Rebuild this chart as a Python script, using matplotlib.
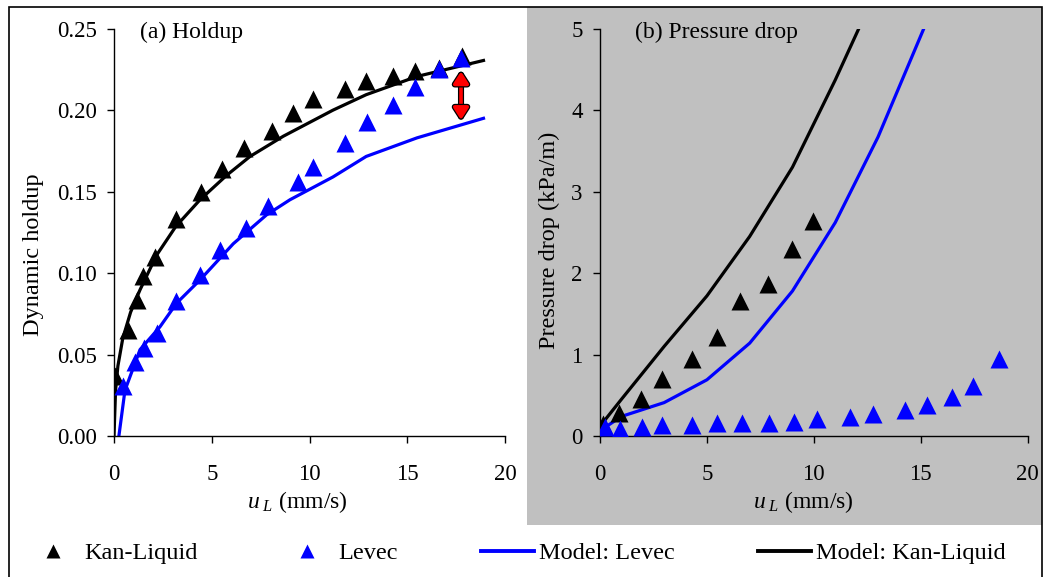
import numpy as np
import matplotlib
matplotlib.use("Agg")
import matplotlib.pyplot as plt
from matplotlib.patches import Rectangle
from matplotlib.lines import Line2D
import matplotlib.patheffects as pe

plt.rcParams['font.family'] = 'Liberation Serif'
plt.rcParams['mathtext.fontset'] = 'custom'
plt.rcParams['mathtext.rm'] = 'Liberation Serif'
plt.rcParams['mathtext.it'] = 'Liberation Serif:italic'

# (a) holdup - experimental
kan_hold_u = [0.05, 0.7, 1.16, 1.5, 2.1, 3.16, 4.45, 5.5, 6.67, 8.07, 9.14, 10.2, 11.8, 12.9, 14.25, 15.4, 16.6, 17.8]
kan_hold = [0.037, 0.065, 0.0835, 0.098, 0.110, 0.133, 0.150, 0.164, 0.177, 0.187, 0.198, 0.207, 0.213, 0.2176, 0.221, 0.224, 0.226, 0.233]
lev_hold_u = [0.45, 1.07, 1.53, 2.18, 3.16, 4.4, 5.42, 6.75, 7.9, 9.43, 10.2, 11.8, 12.93, 14.29, 15.4, 16.6, 17.75]
lev_hold = [0.0307, 0.0456, 0.054, 0.0635, 0.083, 0.099, 0.114, 0.1276, 0.141, 0.156, 0.165, 0.180, 0.193, 0.203, 0.214, 0.225, 0.232]

# (a) holdup - model
mod_kan_hold_u = [0, 0.08, 0.2, 0.45, 0.85, 1.33, 2.18, 3.16, 4.4, 5.76, 6.96, 8.66, 11.2, 12.9, 15.5, 18.9]
mod_kan_hold = [0, 0.028, 0.043, 0.060, 0.076, 0.0897, 0.111, 0.1286, 0.145, 0.160, 0.1716, 0.184, 0.200, 0.2095, 0.2207, 0.2305]
mod_lev_hold_u = [0.25, 0.56, 1.33, 2.35, 3.2, 4.4, 6.1, 7.8, 9.0, 11.2, 12.9, 15.5, 18.9]
mod_lev_hold = [0.0, 0.028, 0.053, 0.067, 0.0815, 0.0958, 0.118, 0.1357, 0.145, 0.159, 0.1716, 0.183, 0.195]

# (b) pressure drop - experimental
kan_dp_u = [0.16, 0.89, 1.9, 2.88, 4.28, 5.45, 6.57, 7.87, 9.0, 9.94]
kan_dp = [0.15, 0.28, 0.46, 0.70, 0.945, 1.22, 1.66, 1.86, 2.29, 2.64]
lev_dp_u = [0.23, 0.93, 1.95, 2.91, 4.32, 5.45, 6.62, 7.91, 9.07, 10.13, 11.68, 12.77, 14.25, 15.3, 16.47, 17.45, 18.65]
lev_dp = [0.11, 0.09, 0.115, 0.13, 0.13, 0.155, 0.155, 0.155, 0.175, 0.205, 0.23, 0.27, 0.32, 0.38, 0.48, 0.61, 0.94]

# (b) pressure drop - model
mod_kan_dp_u = [0, 1, 3, 5, 7, 9, 11, 12.5]
mod_kan_dp = [0.12, 0.45, 1.1, 1.72, 2.45, 3.3, 4.37, 5.23]
mod_lev_dp_u = [0.2, 1, 3, 5, 7, 9, 11, 13, 15.3]
mod_lev_dp = [0.1, 0.24, 0.41, 0.69, 1.14, 1.78, 2.62, 3.67, 5.1]

# gap between model and data at the last holdup point
arrow_u = 17.75
arrow_top, arrow_bottom = 0.2238, 0.194

W, H = 1044, 577
fig = plt.figure(figsize=(W / 100, H / 100), dpi=100)

# gray background for panel (b) and outer frame
fig.add_artist(Rectangle((527 / W, 1 - 525 / H), (1042 - 527) / W, (525 - 7) / H,
                         transform=fig.transFigure, fc='#c0c0c0', ec='none', zorder=0))
fig.add_artist(Rectangle((9 / W, -0.01), (1042 - 9) / W, 1 - 7 / H + 0.01,
                         transform=fig.transFigure, fill=False, ec='black', lw=1.2, zorder=0))

ax1 = fig.add_axes([114 / W, 1 - 436 / H, 391 / W, 407.3 / H])
ax2 = fig.add_axes([600 / W, 1 - 436 / H, 427.7 / W, 407.3 / H])

ms = 12.5
lw = 2.3

ax1.plot(mod_kan_hold_u, mod_kan_hold, color='black', lw=lw, zorder=2)
ax1.plot(mod_lev_hold_u, mod_lev_hold, color='#0000ff', lw=lw, zorder=2)
ax1.plot(kan_hold_u, kan_hold, '^', color='black', ms=ms, mec='none', zorder=3)
ax1.plot(lev_hold_u, lev_hold, '^', color='#0000ff', ms=ms, mec='none', zorder=4)
ax1.annotate('', xy=(arrow_u, arrow_bottom), xytext=(arrow_u, arrow_top),
             arrowprops=dict(arrowstyle='<|-|>,head_width=0.45,head_length=0.7',
                             color='red', lw=2.6, shrinkA=0, shrinkB=0,
                             path_effects=[pe.Stroke(linewidth=4.4, foreground='black'), pe.Normal()]),
             zorder=5)

ax2.plot(mod_kan_dp_u, mod_kan_dp, color='black', lw=lw, zorder=2)
ax2.plot(mod_lev_dp_u, mod_lev_dp, color='#0000ff', lw=lw, zorder=2)
ax2.plot(kan_dp_u, kan_dp, '^', color='black', ms=ms, mec='none', zorder=3)
ax2.plot(lev_dp_u, lev_dp, '^', color='#0000ff', ms=ms, mec='none', zorder=4)

ax1.set_xlim(0, 20)
ax1.set_ylim(0, 0.25)
ax1.set_xticks([0, 5, 10, 15, 20])
ax1.set_yticks([0, 0.05, 0.10, 0.15, 0.20, 0.25])
ax1.set_yticklabels(['0.00', '0.05', '0.10', '0.15', '0.20', '0.25'])
ax2.set_xlim(0, 20)
ax2.set_ylim(0, 5)
ax2.set_xticks([0, 5, 10, 15, 20])
ax2.set_yticks([0, 1, 2, 3, 4, 5])

for ax in (ax1, ax2):
    ax.set_facecolor('none')
    for s in ('top', 'right'):
        ax.spines[s].set_visible(False)
    for s in ('left', 'bottom'):
        ax.spines[s].set_linewidth(1.0)
    ax.tick_params(axis='both', direction='out', length=5, width=1.0, labelsize=16.5)
    ax.tick_params(axis='x', pad=15)
    ax.tick_params(axis='y', pad=7.5)
    ax.set_xlabel(r'$u_{\ L}$ (mm/s)', fontsize=17)

ax1.set_ylabel('Dynamic holdup', fontsize=17.5)
ax2.set_ylabel('Pressure drop (kPa/m)', fontsize=17.5)
ax1.yaxis.set_label_coords(-0.18, 0.445)
ax2.yaxis.set_label_coords(-0.094, 0.48)
ax1.xaxis.set_label_coords(0.468, -0.13)
ax2.xaxis.set_label_coords(0.475, -0.13)

ax1.text(0.067, 0.99, '(a) Holdup', transform=ax1.transAxes, fontsize=17, va='center', ha='left')
ax2.text(0.082, 0.99, '(b) Pressure drop', transform=ax2.transAxes, fontsize=17, va='center', ha='left')

handles = [
    Line2D([], [], ls='none', marker='^', color='black', ms=10.5, mec='none'),
    Line2D([], [], ls='none', marker='^', color='#0000ff', ms=10.5, mec='none'),
    Line2D([], [], color='#0000ff', lw=2.8),
    Line2D([], [], color='black', lw=2.8),
]
labels = ['Kan-Liquid', 'Levec', 'Model: Levec', 'Model: Kan-Liquid']
fig.legend(handles, labels, ncol=4, loc='center left', bbox_to_anchor=(26.5 / W, 1 - 553 / H),
           frameon=False, fontsize=17.5, handlelength=2.18, handletextpad=0.2,
           columnspacing=3.42, borderpad=0, borderaxespad=0)

fig.savefig('out.png', dpi=100)
